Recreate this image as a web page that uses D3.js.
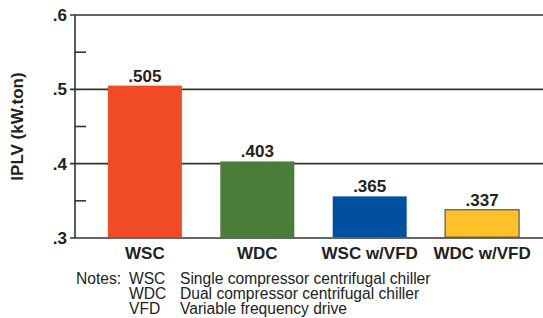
<!DOCTYPE html>
<html>
<head>
<meta charset="utf-8">
<script src="https://cdn.jsdelivr.net/npm/d3@7"></script>
<style>
  html, body { margin: 0; padding: 0; background: #fff; }
  svg { display: block; font-family: "Liberation Sans", Arial, Helvetica, sans-serif; }
</style>
</head>
<body>
<svg id="chart" width="543" height="318"></svg>
<script>
const categories = ["WSC", "WDC", "WSC w/VFD", "WDC w/VFD"];
const values = [0.505, 0.403, 0.356, 0.338];
const valueLabels = [".505", ".403", ".365", ".337"];
const colors = ["#F04B25", "#4A7D3A", "#0050A0", "#FEC12A"];
const strokes = ["none", "none", "none", "#555555"];
const majorTicks = [0.3, 0.4, 0.5, 0.6];
const majorTickLabels = [".3", ".4", ".5", ".6"];
const minorTicks = [0.35, 0.45, 0.55];
const yTitle = "IPLV (kW.ton)";
const noteKeys = ["WSC", "WDC", "VFD"];
const noteTexts = ["Single compressor centrifugal chiller", "Dual compressor centrifugal chiller", "Variable frequency drive"];

const svg = d3.select("#chart");
const W = 543;
const axisX = 75;
const y = d3.scaleLinear().domain([0.3, 0.6]).range([238, 15]);
const x = d3.scaleBand().domain(categories).range([axisX, 552]).paddingInner(0.342).paddingOuter(0.293);

const lineColor = "#333";

// gridlines + major ticks
svg.append("g").selectAll("line").data(majorTicks).join("line")
  .attr("x1", axisX - 5).attr("x2", W)
  .attr("y1", d => y(d)).attr("y2", d => y(d))
  .attr("stroke", lineColor).attr("stroke-width", 1.6);

// minor ticks
svg.append("g").selectAll("line").data(minorTicks).join("line")
  .attr("x1", axisX).attr("x2", axisX + 11)
  .attr("y1", d => y(d)).attr("y2", d => y(d))
  .attr("stroke", lineColor).attr("stroke-width", 1.6);

// y axis line
svg.append("line")
  .attr("x1", axisX).attr("x2", axisX)
  .attr("y1", y(0.6)).attr("y2", y(0.3))
  .attr("stroke", lineColor).attr("stroke-width", 1.6);

// y tick labels
svg.append("g").selectAll("text").data(majorTicks).join("text")
  .attr("x", axisX - 8).attr("y", d => y(d)).attr("dy", "0.36em")
  .attr("text-anchor", "end").attr("font-weight", "bold").attr("font-size", 17).attr("fill", "#222")
  .text((d, i) => majorTickLabels[i]);

// y title
svg.append("text")
  .attr("transform", `translate(23,${(y(0.6) + y(0.3)) / 2}) rotate(-90)`)
  .attr("text-anchor", "middle").attr("font-weight", "bold").attr("font-size", 17).attr("fill", "#222")
  .text(yTitle);

// bars
const data = categories.map((c, i) => ({ c, v: values[i], label: valueLabels[i], color: colors[i], stroke: strokes[i] }));
svg.append("g").selectAll("rect").data(data).join("rect")
  .attr("x", d => x(d.c)).attr("width", x.bandwidth())
  .attr("y", d => y(d.v)).attr("height", d => y(0.3) - y(d.v) - 0.8)
  .attr("fill", d => d.color)
  .attr("stroke", d => d.stroke).attr("stroke-width", 1.2);

// value labels
svg.append("g").selectAll("text").data(data).join("text")
  .attr("x", d => x(d.c) + x.bandwidth() / 2).attr("y", d => y(d.v) - 4)
  .attr("text-anchor", "middle").attr("font-weight", "bold").attr("font-size", 17).attr("fill", "#222")
  .text(d => d.label);

// category labels
svg.append("g").selectAll("text").data(categories).join("text")
  .attr("x", d => x(d) + x.bandwidth() / 2).attr("y", 259)
  .attr("text-anchor", "middle").attr("font-weight", "bold").attr("font-size", 17).attr("fill", "#222")
  .text(d => d);

// notes
const notes = svg.append("g").attr("font-size", 15.6).attr("fill", "#222");
notes.append("text").attr("x", 76).attr("y", 284).text("Notes:");
notes.selectAll("text.k").data(noteKeys).join("text").attr("class", "k")
  .attr("x", 129).attr("y", (d, i) => 284 + i * 15).text(d => d);
notes.selectAll("text.t").data(noteTexts).join("text").attr("class", "t")
  .attr("x", 180).attr("y", (d, i) => 284 + i * 15).text(d => d);
</script>
</body>
</html>
